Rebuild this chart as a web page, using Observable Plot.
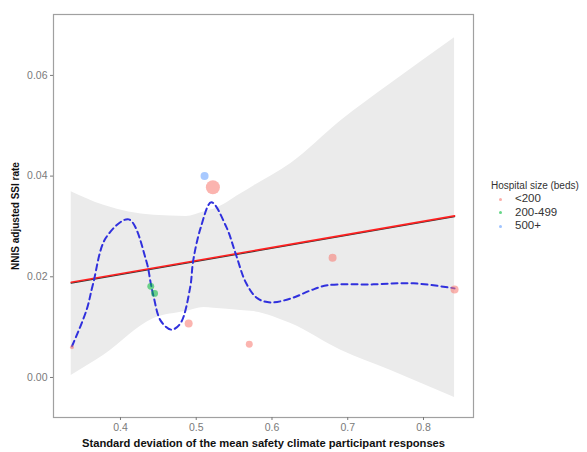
<!DOCTYPE html>
<html>
<head>
<meta charset="utf-8">
<script src="https://cdn.jsdelivr.net/npm/d3@7"></script>
<script src="https://cdn.jsdelivr.net/npm/@observablehq/plot@0.6"></script>
<style>
  body { margin: 0; background: #fff; font-family: Arial, "Liberation Sans", sans-serif; }
  #wrap { position: relative; width: 587px; height: 452px; overflow: hidden; }
  g[aria-label="x-axis label"] text { font-weight: bold; fill: #111; font-size: 11.2px; }
  g[aria-label="y-axis label"] text { font-weight: bold; fill: #111; font-size: 10px; }
  #legend { position: absolute; left: 491px; top: 180px; font-size: 10px; color: #333; }
  #legend .t { white-space: nowrap; }
  #legend .row { position: relative; height: 13.5px; line-height: 13.5px; font-size: 11.5px; }
  #legend .dot { position: absolute; left: 8px; top: 5.5px; width: 3px; height: 3px; border-radius: 50%; opacity: 0.6; }
  #legend .lab { position: absolute; left: 24px; top: 0; white-space: nowrap; }
</style>
</head>
<body>
<div id="wrap"></div>
<script>
// Points
const ptX    = [0.336, 0.440, 0.445, 0.490, 0.511, 0.522, 0.570, 0.680, 0.841];
const ptY    = [0.0060, 0.0181, 0.0167, 0.0107, 0.0400, 0.0378, 0.0066, 0.0238, 0.0175];
const ptSize = ["<200", "200-499", "200-499", "<200", "500+", "<200", "<200", "<200", "<200"];
const ptN    = [4, 12, 12, 16, 16, 49, 12, 16, 16];
const sizeClasses = ["<200", "200-499", "500+"];

// Linear fit line
const fitX = [0.335, 0.841];
const fitY = [0.0189, 0.0321];

// Confidence band (upper, lower)
const bandUX = [0.335, 0.378, 0.444, 0.487, 0.523, 0.559, 0.625, 0.691, 0.757, 0.841];
const bandU  = [0.0369, 0.0342, 0.0322, 0.0320, 0.0334, 0.0365, 0.0425, 0.0510, 0.0584, 0.0675];
const bandLX = [0.335, 0.378, 0.444, 0.510, 0.559, 0.576, 0.625, 0.691, 0.757, 0.841];
const bandL  = [0.0004, 0.0044, 0.0117, 0.0139, 0.0133, 0.0131, 0.0107, 0.0054, 0.0014, -0.0040];

// Dashed smooth curve
const smX = [0.336, 0.355, 0.364, 0.381, 0.411, 0.434, 0.440, 0.444, 0.453, 0.467, 0.479, 0.492, 0.496, 0.506, 0.520, 0.540, 0.552, 0.566, 0.581, 0.598, 0.625, 0.651, 0.673, 0.734, 0.787, 0.841];
const smY = [0.0062, 0.0133, 0.0187, 0.0278, 0.0314, 0.0232, 0.0187, 0.0159, 0.0113, 0.0095, 0.0107, 0.0179, 0.0232, 0.0298, 0.0348, 0.0298, 0.0246, 0.0187, 0.0157, 0.0149, 0.0157, 0.0173, 0.0183, 0.0185, 0.0187, 0.0177];

const colors = ["#F8766D", "#00BA38", "#619CFF"];

const points = ptX.map((x, i) => ({x, y: ptY[i], size: ptSize[i], n: ptN[i]}));
const fit = fitX.map((x, i) => ({x, y: fitY[i]}));
const bandXs = Array.from(new Set([...bandUX, ...bandLX])).sort((a, b) => a - b);
const interp = (xs, ys, x) => {
  for (let i = 0; i < xs.length - 1; i++) {
    if (x >= xs[i] && x <= xs[i + 1]) {
      const t = (x - xs[i]) / (xs[i + 1] - xs[i]);
      return ys[i] + t * (ys[i + 1] - ys[i]);
    }
  }
  return ys[ys.length - 1];
};
const band = bandXs.map(x => ({x, y1: interp(bandLX, bandL, x), y2: interp(bandUX, bandU, x)}));
const smooth = smX.map((x, i) => ({x, y: smY[i]}));

const chart = Plot.plot({
  width: 587,
  height: 452,
  marginLeft: 53,
  marginTop: 14,
  marginRight: 114,
  marginBottom: 35,
  style: {fontFamily: "Arial, 'Liberation Sans', sans-serif", fontSize: "10.5px", background: "#fff"},
  x: {domain: [0.3116, 0.866]},
  y: {domain: [-0.00795, 0.0721]},
  color: {domain: sizeClasses, range: colors},
  r: {type: "sqrt", domain: [0, 49], range: [0, 7]},
  marks: [
    Plot.areaY(band, {x: "x", y1: "y1", y2: "y2", fill: "#EBEBEB", curve: "monotone-x"}),
    Plot.line(fit, {x: "x", y: "y", stroke: "#333", strokeWidth: 1.2, dy: 0.8}),
    Plot.line(fit, {x: "x", y: "y", stroke: "#FF2020", strokeWidth: 1.6}),
    Plot.line(smooth, {x: "x", y: "y", stroke: "#3030DD", strokeWidth: 2, strokeDasharray: "6,4", curve: "catmull-rom"}),
    Plot.dot(points, {x: "x", y: "y", r: "n", fill: "size", fillOpacity: 0.55, stroke: "none"}),
    Plot.frame({stroke: "#A0A0A0", strokeWidth: 1.2}),
    Plot.axisX({ticks: [0.4, 0.5, 0.6, 0.7, 0.8], tickFormat: d3.format(".1f"), tickSize: 3, tickPadding: 3, color: "#7a7a7a",
      label: "Standard deviation of the mean safety climate participant responses", labelAnchor: "center", labelArrow: "none", labelOffset: 29}),
    Plot.axisY({ticks: [0, 0.02, 0.04, 0.06], tickFormat: d3.format(".2f"), tickSize: 3, tickPadding: 3, color: "#7a7a7a",
      label: "NNIS adjusted SSI rate", labelAnchor: "center", labelArrow: "none", labelOffset: 42})
  ]
});
document.getElementById("wrap").appendChild(chart);

const legend = document.createElement("div");
legend.id = "legend";
legend.innerHTML = `<div class="t" style="margin-bottom:1px">Hospital size (beds)</div>` +
  sizeClasses.map((s, i) => `<div class="row"><span class="dot" style="background:${colors[i]}"></span><span class="lab">${s}</span></div>`).join("");
document.getElementById("wrap").appendChild(legend);
</script>
</body>
</html>
